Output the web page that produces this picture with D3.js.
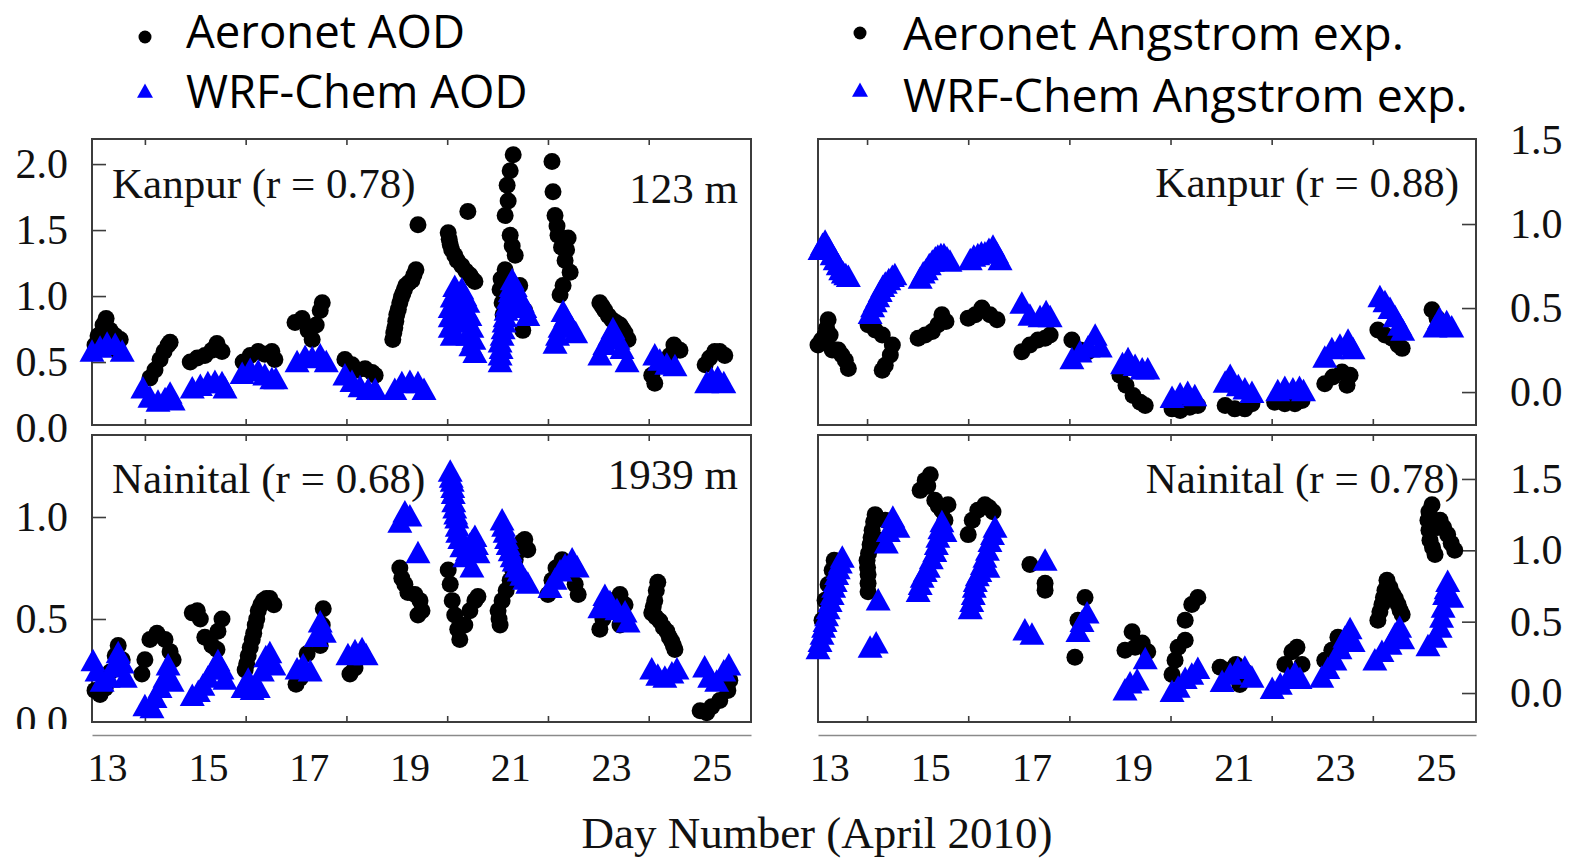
<!DOCTYPE html>
<html><head><meta charset="utf-8">
<script src="https://cdn.jsdelivr.net/npm/d3@7"></script>
<style>body{margin:0;background:#fff}svg{display:block}</style>
</head><body><svg id="c" width="1573" height="860"></svg>
<script>
// ---------------- DATA ----------------
const dayLabels = [13, 15, 17, 19, 21, 23, 25];
const dayTickMarks = [13.75, 15.75, 17.75, 19.75, 21.75, 23.75];
const aodTicksKanpur = [0.0, 0.5, 1.0, 1.5, 2.0];
const aodTicksNainital = [0.0, 0.5, 1.0];
const angTicks = [0.0, 0.5, 1.0, 1.5];

const legendAod = ["Aeronet AOD", "WRF-Chem AOD"];
const legendAng = ["Aeronet Angstrom exp.", "WRF-Chem Angstrom exp."];
const panelTitles = ["Kanpur (r = 0.78)", "Nainital (r = 0.68)", "Kanpur (r = 0.88)", "Nainital (r = 0.78)"];
const elevations = ["123 m", "1939 m"];
const xTitle = "Day Number (April 2010)";

// [day, value]
const kanpurAodAeronet = [
 [12.76,0.63],[12.82,0.70],[12.92,0.78],[12.98,0.83],[13.06,0.74],[13.16,0.70],[13.26,0.67],[13.22,0.58],
 [13.85,0.38],[13.95,0.44],[14.05,0.52],[14.13,0.58],[14.21,0.63],[14.25,0.65],
 [14.65,0.50],[14.79,0.53],[14.94,0.55],[15.08,0.59],[15.18,0.64],[15.28,0.58],
 [15.70,0.50],[15.84,0.55],[16.00,0.58],[16.13,0.56],[16.27,0.58],[16.33,0.52],
 [16.73,0.80],[16.87,0.83],[16.99,0.74],[17.07,0.67],[17.15,0.78],[17.23,0.89],[17.27,0.95],
 [17.72,0.52],[17.86,0.48],[17.98,0.44],[18.12,0.45],[18.26,0.42],[18.32,0.40],
 [18.67,0.67],[18.69,0.72],[18.71,0.76],[18.73,0.81],[18.75,0.86],[18.78,0.90],[18.81,0.95],[18.84,0.99],[18.87,1.02],[18.90,1.05],[18.93,1.08],[18.99,1.10],[19.05,1.12],[19.09,1.16],[19.13,1.20],[19.17,1.54],
 [19.77,1.48],[19.79,1.43],[19.81,1.39],[19.84,1.35],[19.90,1.31],[19.95,1.27],[20.04,1.23],[20.12,1.19],[20.20,1.16],[20.25,1.13],[20.30,1.11],[20.16,1.64],
 [21.06,2.07],[21.00,1.95],[20.94,1.84],[20.96,1.72],[20.90,1.61],[21.00,1.46],[21.04,1.38],[21.10,1.31],[20.90,1.20],[20.82,1.13],[20.80,1.05],[20.84,0.95],[20.86,0.86],[21.19,1.08],[21.29,0.89],[21.25,0.74],
 [21.83,2.02],[21.85,1.79],[21.89,1.61],[21.93,1.53],[21.95,1.46],[22.02,1.37],[22.12,1.35],[22.15,1.44],[22.09,1.27],[22.19,1.18],[22.05,1.08],[21.99,1.01],
 [22.78,0.95],[22.83,0.92],[22.88,0.89],[22.95,0.85],[23.02,0.82],[23.10,0.80],[23.18,0.78],[23.23,0.75],[23.28,0.72],[23.34,0.67],
 [23.87,0.34],[23.81,0.40],[24.02,0.48],[24.17,0.55],[24.25,0.63],[24.37,0.59],
 [24.87,0.48],[24.96,0.53],[25.06,0.58],[25.16,0.58],[25.26,0.55]
];
const kanpurAodWrf = [
 [12.70,0.56],[12.86,0.59],[13.00,0.62],[13.16,0.61],[13.30,0.56],
 [13.71,0.28],[13.85,0.21],[14.01,0.18],[14.15,0.20],[14.25,0.24],[14.31,0.19],
 [14.69,0.28],[14.85,0.30],[15.00,0.32],[15.14,0.33],[15.28,0.32],[15.34,0.28],
 [15.68,0.39],[15.84,0.42],[16.00,0.41],[16.13,0.38],[16.27,0.35],[16.35,0.35],
 [16.77,0.48],[16.93,0.52],[17.07,0.51],[17.23,0.53],[17.35,0.48],
 [17.72,0.38],[17.86,0.33],[18.02,0.29],[18.18,0.27],[18.32,0.27],
 [18.71,0.27],[18.85,0.32],[19.01,0.33],[19.17,0.32],[19.29,0.27],
 [19.90,1.05],[19.85,0.97],[19.81,0.89],[19.81,0.82],[19.81,0.74],[19.85,0.68],[20.04,1.03],[20.16,0.93],[20.20,0.83],[20.24,0.74],[20.28,0.65],[20.30,0.55],
 [19.95,1.00],[19.90,0.92],[19.88,0.85],[19.88,0.78],[19.90,0.70],[20.10,0.98],[20.12,0.88],[20.14,0.78],[20.16,0.68],[20.22,0.60],
 [21.04,1.10],[21.00,1.01],[20.94,0.91],[20.90,0.82],[20.86,0.73],[20.80,0.63],[20.80,0.53],[20.80,0.48],[21.19,0.97],[21.29,0.89],[21.35,0.83],
 [21.02,1.05],[20.97,0.96],[20.92,0.87],[20.88,0.78],[20.84,0.68],[20.82,0.58],[21.10,1.05],[21.12,0.95],[21.24,0.93],
 [21.89,0.62],[21.99,0.74],[22.05,0.86],[22.15,0.78],[22.30,0.70],[21.94,0.68],[22.10,0.82],[22.22,0.74],
 [22.78,0.53],[22.88,0.61],[22.98,0.68],[23.04,0.73],[23.14,0.65],[23.22,0.58],[23.32,0.48],
 [23.87,0.53],[23.97,0.49],[24.11,0.46],[24.27,0.45],
 [24.90,0.32],[25.00,0.35],[25.12,0.36],[25.24,0.32]
];
const nainitalAodAeronet = [
 [12.76,0.15],[12.86,0.13],[12.96,0.16],[13.06,0.24],[13.16,0.32],[13.22,0.37],[13.30,0.30],
 [13.69,0.23],[13.75,0.30],[13.85,0.40],[13.99,0.43],[14.15,0.40],[14.25,0.34],[14.31,0.30],
 [14.69,0.53],[14.79,0.54],[14.85,0.50],[14.94,0.41],[15.08,0.37],[15.20,0.44],[15.28,0.50],[15.18,0.35],
 [15.74,0.25],[15.77,0.28],[15.80,0.32],[15.84,0.36],[15.88,0.40],[15.91,0.43],[15.94,0.47],[15.97,0.50],[16.00,0.54],[16.05,0.57],[16.10,0.59],[16.16,0.60],[16.23,0.60],[16.31,0.57],
 [16.75,0.18],[16.83,0.21],[16.97,0.33],[17.23,0.37],[17.27,0.47],[17.29,0.55],
 [17.82,0.23],[17.92,0.26],
 [18.81,0.75],[18.85,0.70],[18.91,0.67],[18.97,0.63],[19.11,0.62],[19.21,0.59],[19.25,0.54],[19.17,0.52],
 [19.77,0.74],[19.81,0.67],[19.85,0.59],[19.90,0.52],[19.96,0.45],[20.00,0.40],[20.10,0.47],[20.20,0.54],[20.30,0.59],[20.36,0.61],
 [20.76,0.54],[20.78,0.50],[20.80,0.47],[20.84,0.59],[20.92,0.64],[21.00,0.69],[21.05,0.74],[21.10,0.79],[21.15,0.83],[21.19,0.86],[21.24,0.88],[21.29,0.89],[21.35,0.84],
 [21.75,0.62],[21.83,0.69],[21.91,0.75],[22.03,0.79],[22.19,0.73],[22.29,0.67],[22.35,0.62],
 [22.78,0.45],[22.84,0.50],[23.02,0.59],[23.18,0.62],[23.28,0.57],[23.18,0.47],
 [23.93,0.68],[23.90,0.64],[23.87,0.59],[23.84,0.56],[23.81,0.53],[23.89,0.51],[23.97,0.49],[24.04,0.46],[24.11,0.44],[24.16,0.41],[24.21,0.39],[24.24,0.37],[24.27,0.35],
 [24.77,0.05],[24.90,0.04],[25.00,0.07],[25.16,0.10],[25.32,0.15],[25.36,0.20]
];
const nainitalAodWrf = [
 [12.72,0.28],[12.80,0.23],[12.90,0.18],[13.02,0.20],[13.12,0.25],[13.22,0.32],[13.30,0.27],[13.36,0.20],
 [13.75,0.06],[13.89,0.05],[13.95,0.10],[14.05,0.15],[14.15,0.20],[14.21,0.26],[14.29,0.18],
 [14.69,0.11],[14.81,0.13],[14.90,0.16],[15.00,0.20],[15.10,0.24],[15.20,0.28],[15.28,0.24],[15.34,0.19],
 [15.70,0.15],[15.80,0.19],[15.88,0.14],[16.00,0.15],[16.08,0.23],[16.15,0.30],[16.23,0.32],[16.31,0.26],
 [16.77,0.24],[16.89,0.26],[17.03,0.23],[17.15,0.40],[17.23,0.47],[17.31,0.42],
 [17.78,0.31],[17.92,0.33],[18.06,0.34],[18.14,0.31],
 [18.81,0.96],[18.91,1.01],[19.01,0.99],[19.17,0.81],
 [19.81,1.21],[19.85,1.16],[19.87,1.10],[19.90,1.03],[19.94,0.98],[19.96,0.91],[20.04,0.84],[20.10,0.79],[20.20,0.85],[20.30,0.89],[20.36,0.81],[20.24,0.74],
 [19.83,1.18],[19.86,1.13],[19.88,1.06],[19.92,1.00],[19.95,0.94],[20.00,0.88],[20.15,0.82],[20.25,0.87],[20.33,0.85],
 [20.84,0.97],[20.90,0.91],[20.96,0.85],[21.04,0.79],[21.13,0.74],[21.23,0.70],[21.35,0.66],[20.87,0.94],[20.93,0.88],[21.00,0.82],[21.08,0.77],[21.18,0.72],[21.29,0.68],
 [21.79,0.64],[21.89,0.68],[21.99,0.72],[22.09,0.75],[22.23,0.78],[22.33,0.74],
 [22.78,0.54],[22.88,0.60],[22.98,0.57],[23.12,0.53],[23.28,0.52],[23.34,0.47],
 [23.81,0.24],[23.93,0.21],[24.07,0.20],[24.21,0.22],[24.31,0.24],
 [24.86,0.25],[24.96,0.20],[25.10,0.18],[25.24,0.23],[25.34,0.26]
];
const kanpurAngAeronet = [
 [12.78,0.28],[12.85,0.31],[12.92,0.34],[12.95,0.38],[12.98,0.43],[13.02,0.34],[13.06,0.25],[13.12,0.25],[13.18,0.25],[13.25,0.22],[13.32,0.19],[13.38,0.14],
 [13.77,0.40],[13.91,0.37],[14.05,0.34],[14.25,0.28],[14.21,0.22],[14.11,0.16],[14.05,0.13],
 [14.76,0.32],[14.90,0.34],[15.04,0.36],[15.15,0.40],[15.23,0.46],[15.31,0.42],
 [15.75,0.44],[15.89,0.46],[16.02,0.50],[16.18,0.46],[16.32,0.43],
 [16.81,0.24],[16.97,0.28],[17.13,0.31],[17.27,0.32],[17.37,0.34],
 [17.80,0.31],[17.96,0.25],[18.12,0.24],
 [18.75,0.10],[18.87,0.04],[19.01,-0.02],[19.15,-0.06],[19.25,-0.08],
 [19.78,-0.10],[19.94,-0.11],[20.13,-0.09],[20.29,-0.08],
 [20.83,-0.08],[21.02,-0.10],[21.22,-0.10],[21.36,-0.07],
 [21.81,-0.06],[22.01,-0.07],[22.21,-0.07],[22.35,-0.05],
 [22.80,0.05],[22.96,0.09],[23.14,0.12],[23.30,0.10],[23.24,0.04],
 [23.85,0.37],[23.99,0.34],[24.13,0.32],[24.25,0.28],[24.33,0.26],
 [24.92,0.49],[25.02,0.44]
];
const kanpurAngWrf = [
 [12.82,0.83],[12.87,0.86],[12.92,0.88],[12.99,0.84],[13.06,0.80],[13.12,0.77],[13.18,0.74],[13.23,0.71],[13.28,0.69],[13.33,0.68],[13.38,0.67],
 [13.81,0.45],[13.86,0.49],[13.91,0.52],[13.96,0.55],[14.01,0.58],[14.06,0.61],[14.11,0.63],[14.18,0.65],[14.25,0.67],[14.30,0.68],
 [14.80,0.66],[14.86,0.69],[14.92,0.71],[14.98,0.74],[15.04,0.76],[15.10,0.78],[15.15,0.79],[15.21,0.80],[15.27,0.80],[15.33,0.78],[15.39,0.76],
 [15.79,0.77],[15.86,0.79],[15.94,0.80],[16.01,0.81],[16.08,0.81],[16.16,0.83],[16.24,0.85],[16.31,0.81],[16.38,0.77],
 [16.81,0.51],[16.97,0.44],[17.17,0.43],[17.29,0.46],[17.37,0.43],
 [17.80,0.18],[17.96,0.22],[18.12,0.25],[18.26,0.32],[18.36,0.25],
 [18.80,0.15],[18.91,0.18],[19.05,0.14],[19.19,0.12],[19.30,0.12],
 [19.78,-0.05],[19.94,-0.03],[20.09,-0.02],[20.23,-0.04],
 [20.83,0.04],[20.93,0.08],[21.09,0.02],[21.22,0.00],[21.36,-0.02],
 [21.87,-0.01],[22.01,0.01],[22.17,0.00],[22.30,0.01],[22.38,-0.01],
 [22.80,0.19],[22.94,0.24],[23.10,0.26],[23.26,0.29],[23.36,0.24],
 [23.89,0.55],[23.99,0.52],[24.09,0.48],[24.19,0.43],[24.28,0.38],[24.34,0.35],
 [24.98,0.37],[25.07,0.42],[25.21,0.40],[25.31,0.37]
];
const nainitalAngAeronet = [
 [12.86,0.51],[12.92,0.65],[12.98,0.76],[13.06,0.86],[13.10,0.93],
 [13.91,1.25],[13.88,1.20],[13.85,1.14],[13.83,1.09],[13.81,1.04],[13.78,0.98],[13.75,0.93],[13.76,0.88],[13.77,0.83],[13.77,0.77],[13.77,0.71],[14.11,1.21],[14.01,1.07],
 [14.80,1.42],[14.90,1.49],[15.00,1.53],[15.09,1.35],[15.23,1.28],[15.35,1.32],[15.29,1.21],[14.95,1.45],[15.16,1.31],
 [15.75,1.11],[15.83,1.21],[15.94,1.28],[16.08,1.32],[16.24,1.27],[16.16,1.30],
 [16.97,0.90],[17.27,0.77],[17.27,0.72],
 [18.06,0.67],[17.92,0.51],[17.86,0.25],
 [18.99,0.43],[18.85,0.30],[19.05,0.32],[19.19,0.35],[19.30,0.29],
 [19.78,0.13],[19.84,0.23],[19.90,0.32],[20.04,0.37],[20.17,0.62],[20.29,0.67],[20.04,0.51],
 [20.73,0.18],[20.89,0.16],[21.04,0.20],[21.22,0.15],[21.12,0.06],
 [22.01,0.20],[22.15,0.29],[22.25,0.32],[22.35,0.20],
 [22.80,0.23],[22.94,0.30],[23.06,0.39],[23.14,0.32],
 [23.85,0.51],[23.93,0.62],[23.99,0.72],[24.03,0.79],[24.15,0.69],[24.25,0.62],[24.33,0.55],[23.89,0.57],[23.96,0.67],[24.09,0.74],[24.20,0.66],[24.29,0.58],
 [24.92,1.32],[24.84,1.21],[24.88,1.07],[24.98,0.97],[25.08,1.21],[25.23,1.11],[25.37,1.00],[24.86,1.27],[24.86,1.14],[24.93,1.02],[25.03,1.16],[25.15,1.16],[25.30,1.05]
];
const nainitalAngWrf = [
 [12.78,0.29],[12.82,0.34],[12.86,0.39],[12.89,0.44],[12.92,0.48],[12.95,0.52],[12.98,0.57],[13.02,0.62],[13.06,0.67],[13.09,0.72],[13.12,0.76],[13.15,0.81],[13.18,0.85],[13.22,0.89],[13.26,0.93],
 [14.17,1.11],[14.26,1.21],[14.36,1.14],[14.13,1.03],[13.97,0.63],[13.81,0.30],[13.93,0.33],
 [14.76,0.69],[14.80,0.74],[14.84,0.79],[14.90,0.83],[14.96,0.86],[15.02,0.92],[15.09,0.97],[15.12,1.02],[15.15,1.07],[15.19,1.13],[15.23,1.18],[15.29,1.11],
 [15.79,0.57],[15.82,0.62],[15.85,0.67],[15.87,0.72],[15.89,0.76],[15.93,0.80],[15.98,0.83],[16.03,0.88],[16.08,0.93],[16.13,0.98],[16.18,1.04],[16.23,1.09],[16.28,1.14],[16.14,0.86],
 [17.27,0.91],[16.87,0.42],[17.01,0.39],
 [17.92,0.41],[18.00,0.48],[18.10,0.54],
 [18.85,0.00],[18.95,0.05],[19.09,0.07],[19.25,0.22],
 [19.78,-0.01],[19.90,0.02],[20.04,0.08],[20.17,0.11],[20.29,0.15],
 [20.77,0.06],[20.93,0.11],[21.08,0.15],[21.22,0.16],[21.36,0.09],
 [21.76,0.01],[21.92,0.04],[22.07,0.08],[22.21,0.12],[22.31,0.08],
 [22.74,0.09],[22.86,0.15],[23.00,0.21],[23.10,0.29],[23.20,0.37],[23.30,0.43],[23.36,0.34],
 [23.79,0.21],[23.93,0.27],[24.09,0.32],[24.19,0.39],[24.28,0.44],[24.34,0.36],
 [24.84,0.31],[24.98,0.37],[25.08,0.44],[25.14,0.58],[25.17,0.67],[25.23,0.76],[25.31,0.65],[25.11,0.51],[25.20,0.71]
];

// ---------------- DRAWING ----------------
const serif = '"Liberation Serif","Times New Roman",serif';
const sans = '"Open Sans",sans-serif';
const BLUE = '#0000ff';
const svg = d3.select('#c');

const triangle = {
  draw(ctx, size) {
    const w = Math.sqrt(size), h = w * 0.9;
    ctx.moveTo(0, -2 * h / 3);
    ctx.lineTo(w / 2, h / 3);
    ctx.lineTo(-w / 2, h / 3);
    ctx.closePath();
  }
};

const panels = [
  {frame:[92,139,751,425], xDom:[12.70,25.78], yDom:[0.023,2.19], side:'left', ticks:aodTicksKanpur,
   black:kanpurAodAeronet, blue:kanpurAodWrf, title:panelTitles[0], titleY:198, elev:elevations[0], elevY:203},
  {frame:[92,435,751,722], xDom:[12.70,25.78], yDom:[-0.005,1.402], side:'left', ticks:aodTicksNainital,
   black:nainitalAodAeronet, blue:nainitalAodWrf, title:panelTitles[1], titleY:493, elev:elevations[1], elevY:489, clipLabels:729},
  {frame:[818,139,1476,425], xDom:[12.78,25.79], yDom:[-0.196,1.506], side:'right', ticks:angTicks,
   black:kanpurAngAeronet, blue:kanpurAngWrf, title:panelTitles[2], titleY:197},
  {frame:[818,435,1476,722], xDom:[12.78,25.79], yDom:[-0.203,1.808], side:'right', ticks:angTicks,
   black:nainitalAngAeronet, blue:nainitalAngWrf, title:panelTitles[3], titleY:493}
];

svg.append('defs').append('clipPath').attr('id','clipBL')
  .append('rect').attr('x',0).attr('y',400).attr('width',92).attr('height',329);

panels.forEach((p, i) => {
  const [fx0, fy0, fx1, fy1] = p.frame;
  const x = d3.scaleLinear().domain(p.xDom).range([fx0, fx1]);
  const y = d3.scaleLinear().domain(p.yDom).range([fy1, fy0]);

  svg.append('rect').attr('x', fx0).attr('y', fy0).attr('width', fx1 - fx0).attr('height', fy1 - fy0)
    .attr('fill', 'none').attr('stroke', '#3c3c3c').attr('stroke-width', 2);

  const xt = svg.append('g').attr('transform', `translate(0,${fy0})`)
    .call(d3.axisBottom(x).tickValues(dayTickMarks).tickSize(6).tickFormat(''));
  const xb = svg.append('g').attr('transform', `translate(0,${fy1})`)
    .call(d3.axisTop(x).tickValues(dayTickMarks).tickSize(6).tickFormat(''));
  [xt, xb].forEach(g => { g.select('.domain').remove(); g.selectAll('line').attr('stroke', '#3c3c3c').attr('stroke-width', 1.6); });

  const ax = (p.side === 'left' ? d3.axisLeft(y).tickPadding(24) : d3.axisRight(y).tickPadding(34))
    .tickValues(p.ticks).tickSizeInner(-14).tickSizeOuter(0).tickFormat(d3.format('.1f'));
  const holder = svg.append('g');
  if (p.clipLabels) holder.attr('clip-path', 'url(#clipBL)');
  const yg = holder.append('g').attr('transform', `translate(${p.side === 'left' ? fx0 : fx1},0)`).call(ax);
  yg.select('.domain').remove();
  yg.attr('font-family', serif).attr('font-size', 42);
  yg.selectAll('text').attr('fill', '#111');
  yg.selectAll('line').attr('stroke', '#3c3c3c').attr('stroke-width', 1.6);
  yg.selectAll('.tick').filter(d => y(d) > fy1 || y(d) < fy0 + 2).select('line').remove();
  if (p.clipLabels) {
    const tg = svg.append('g').attr('transform', `translate(${fx0},0)`)
      .call(d3.axisLeft(y).tickValues(p.ticks.filter(v => y(v) < fy1 - 2)).tickSizeInner(-14).tickSizeOuter(0).tickFormat(''));
    tg.select('.domain').remove();
    tg.selectAll('line').attr('stroke', '#3c3c3c').attr('stroke-width', 1.6);
  }

  svg.append('g').selectAll('circle').data(p.black).join('circle')
    .attr('cx', d => x(d[0])).attr('cy', d => y(d[1])).attr('r', 8.5).attr('fill', '#000');
  const sym = d3.symbol().type(triangle).size(25 * 25);
  svg.append('g').selectAll('path').data(p.blue).join('path')
    .attr('transform', d => `translate(${x(d[0])},${y(d[1])})`).attr('d', sym).attr('fill', BLUE);

  const t = svg.append('text').attr('font-family', serif).attr('font-size', 43).attr('fill', '#111')
    .attr('y', p.titleY).text(p.title);
  if (p.side === 'left') t.attr('x', 112); else t.attr('x', 1459).attr('text-anchor', 'end');
  if (p.elev) svg.append('text').attr('font-family', serif).attr('font-size', 43).attr('fill', '#111')
    .attr('x', 738).attr('y', p.elevY).attr('text-anchor', 'end').text(p.elev);

  if (i === 1 || i === 3) {
    const bg = svg.append('g').attr('transform', 'translate(0,735)')
      .call(d3.axisBottom(x).tickValues(dayLabels).tickSize(0).tickSizeOuter(0).tickPadding(18).tickFormat(d3.format('d')));
    bg.attr('font-family', serif).attr('font-size', 40);
    bg.selectAll('text').attr('fill', '#111');
    bg.select('.domain').attr('stroke', '#8a8a8a').attr('stroke-width', 1.5);
  }
});

svg.append('text').attr('x', 817).attr('y', 848).attr('text-anchor', 'middle')
  .attr('font-family', serif).attr('font-size', 45).attr('fill', '#111').text(xTitle);

const legends = [
  {labels: legendAod, mx: 145, tx: 186, ys: [37, 93], bys: [48, 108], fs: 45.5},
  {labels: legendAng, mx: 860, tx: 903, ys: [33, 92], bys: [50, 112], fs: 46.5}
];
const legTri = d3.symbol().type(triangle).size(16 * 16);
legends.forEach(L => {
  svg.append('circle').attr('cx', L.mx).attr('cy', L.ys[0]).attr('r', 6.5).attr('fill', '#000');
  svg.append('path').attr('transform', `translate(${L.mx},${L.ys[1]})`).attr('d', legTri).attr('fill', BLUE);
  L.labels.forEach((lab, k) => {
    svg.append('text').attr('x', L.tx).attr('y', L.bys[k]).attr('font-family', sans)
      .attr('font-size', L.fs).attr('fill', '#000').text(lab);
  });
});
</script></body></html>
